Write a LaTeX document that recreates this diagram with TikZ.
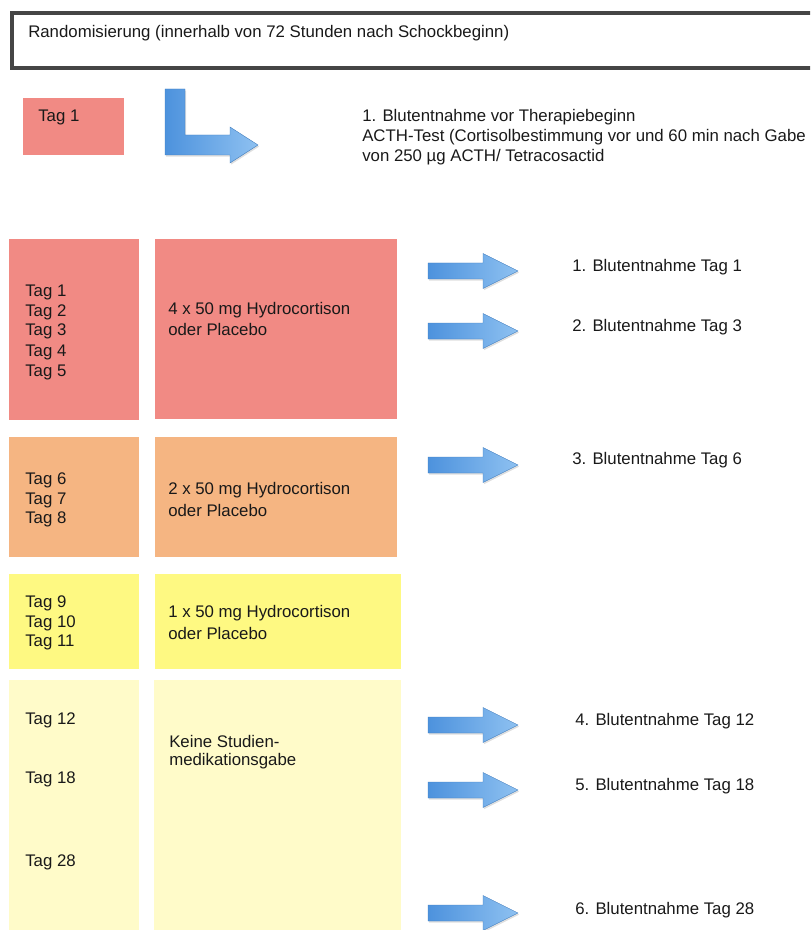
\documentclass[tikz,border=0pt]{standalone}
\usepackage{fontspec}
\setmainfont{Liberation Sans}
\usetikzlibrary{shadows,fit}
\definecolor{redbox}{HTML}{F18A84}
\definecolor{orangebox}{HTML}{F5B582}
\definecolor{yellowbox}{HTML}{FEF982}
\definecolor{paleyellow}{HTML}{FFFBC9}
\definecolor{arrowdark}{HTML}{4D92DD}
\definecolor{arrowlight}{HTML}{8EC1F1}
\definecolor{framegray}{HTML}{454545}
\begin{document}
\begin{tikzpicture}[x=0.75pt,y=-0.75pt,
  txt/.style={font=\fontsize{12.6pt}{15pt}\selectfont, inner sep=0pt, text=black!90, anchor=west},
  blockbox/.style={inner sep=0pt, draw=none},
  bluearrow/.style={left color=arrowdark, right color=arrowlight, draw=arrowdark!85!black, line width=0.3pt,
    drop shadow={opacity=0.25, shadow xshift=0.8pt, shadow yshift=-1.2pt}},
  rarrow/.pic={\path[bluearrow] (0,-8) -- (55,-8) -- (55,-17.5) -- (90,0) -- (55,17.5) -- (55,8) -- (0,8) -- cycle;}
]
\useasboundingbox (0,0) rectangle (810,930);
\begin{scope}
\clip (0,0) rectangle (810,930);
% top frame
\node[fit={(12,13) (830,68)}, inner sep=0pt, draw=framegray, line width=2.4pt] (top) {};
\node[txt] (rand) at (28,33) {Randomisierung (innerhalb von 72 Stunden nach Schockbeginn)};

% Tag 1 small box
\node[fit={(23,98) (124,155)}, blockbox, fill=redbox] (tag1box) {};
\node[txt] (tag1) at (38,117) {Tag 1};

% L-shaped arrow
\path[bluearrow] (165,89) -- (185,89) -- (185,135) -- (230,135) -- (230,127) -- (258,145)
  -- (230,163) -- (230,155) -- (165,155) -- cycle;

\node[txt] (b0a) at (362,117) {1. Blutentnahme vor Therapiebeginn};
\node[txt] (b0b) at (362,137) {ACTH-Test (Cortisolbestimmung vor und 60 min nach Gabe};
\node[txt] (b0c) at (362,157) {von 250 µg ACTH/ Tetracosactid};

% red boxes
\node[fit={(9,239) (139,420)}, blockbox, fill=redbox] (r1) {};
\node[fit={(155,239) (397,419)}, blockbox, fill=redbox] (r2) {};
\foreach \t/\yy in {1/292,2/312,3/331,4/352,5/372}
  \node[txt] (d\t) at (25,\yy) {Tag \t};
\node[txt] (m4a) at (168,310) {4 x 50 mg Hydrocortison};
\node[txt] (m4b) at (168,329) {oder Placebo};

% orange boxes
\node[fit={(9,437) (139,557)}, blockbox, fill=orangebox] (o1) {};
\node[fit={(155,437) (397,557)}, blockbox, fill=orangebox] (o2) {};
\foreach \t/\yy in {6/480,7/500,8/519}
  \node[txt] (d\t) at (25,\yy) {Tag \t};
\node[txt] (m2a) at (168,490) {2 x 50 mg Hydrocortison};
\node[txt] (m2b) at (168,510) {oder Placebo};

% yellow boxes
\node[fit={(9,574) (139,669)}, blockbox, fill=yellowbox] (y1) {};
\node[fit={(155,574) (401,669)}, blockbox, fill=yellowbox] (y2) {};
\foreach \t/\yy in {9/603,10/623,11/642}
  \node[txt] (d\t) at (25,\yy) {Tag \t};
\node[txt] (m1a) at (168,613) {1 x 50 mg Hydrocortison};
\node[txt] (m1b) at (168,633) {oder Placebo};

% pale yellow boxes
\node[fit={(9,680) (139,935)}, blockbox, fill=paleyellow] (p1) {};
\node[fit={(154,680) (401,935)}, blockbox, fill=paleyellow] (p2) {};
\foreach \t/\yy in {12/720,18/779,28/862}
  \node[txt] (d\t) at (25,\yy) {Tag \t};
\node[txt] (m0a) at (169,741) {Keine Studien-};
\node[txt] (m0b) at (169,761) {medikationsgabe};

% right arrows and labels
\foreach \yy in {271,331,465,725,790,913}
  \pic at (428,\yy) {rarrow};
\node[txt] (bt1) at (572,267) {1. Blutentnahme Tag 1};
\node[txt] (bt3) at (572,327) {2. Blutentnahme Tag 3};
\node[txt] (bt6) at (572,460) {3. Blutentnahme Tag 6};
\node[txt] (bt12) at (575,721) {4. Blutentnahme Tag 12};
\node[txt] (bt18) at (575,786) {5. Blutentnahme Tag 18};
\node[txt] (bt28) at (575,910) {6. Blutentnahme Tag 28};
\end{scope}
\end{tikzpicture}
\end{document}
